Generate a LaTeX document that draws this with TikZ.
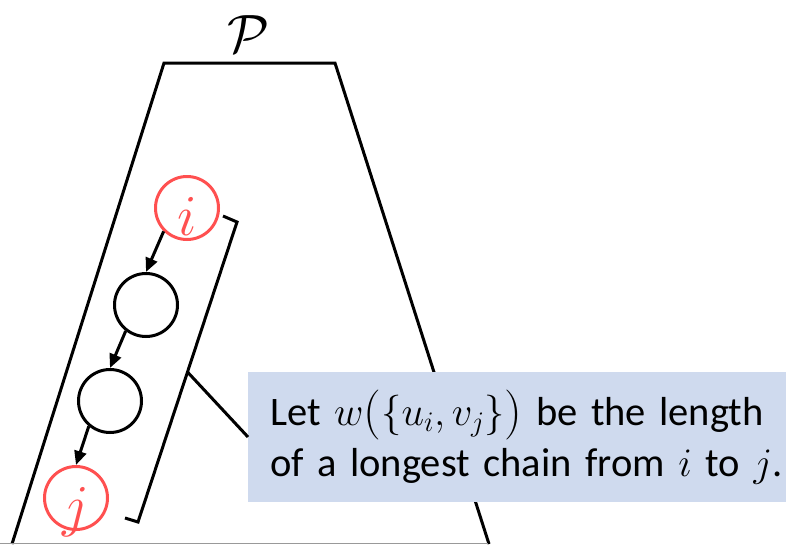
\RequirePackage{fix-cm}
\documentclass[tikz,border=0pt]{standalone}
\usepackage{amsmath}
\usepackage[no-math]{fontspec}
\setmainfont{Carlito}
\usetikzlibrary{arrows.meta,calc}
\definecolor{myred}{RGB}{255,80,80}
\definecolor{boxblue}{RGB}{207,218,238}
\newcommand{\myLparen}{\mathopen{\raisebox{-2.5pt}{\fontsize{50}{50}\selectfont$($}}}
\newcommand{\myRparen}{\mathclose{\raisebox{-2.5pt}{\fontsize{50}{50}\selectfont$)$}}}
\begin{document}
\begin{tikzpicture}[x=1pt,y=-1pt,
  chainnode/.style={circle, draw=black, line width=3pt, minimum size=63pt, inner sep=0pt},
  endnode/.style={chainnode, draw=myred, text=myred, font=\fontsize{58}{58}\selectfont, text height=54pt, text depth=0pt},
  chainedge/.style={line width=3pt, -{Triangle[length=14pt,width=12pt]}},
  frame/.style={line width=3pt, line join=miter},
  callbox/.style={fill=boxblue, anchor=west, inner xsep=22pt, inner ysep=0pt, text width=560pt, align=left, minimum height=130pt, font=\fontsize{40.5}{51}\selectfont},
  biglabel/.style={font=\fontsize{54}{54}\selectfont, inner sep=0pt},
]
\useasboundingbox (0,0) rectangle (786,544);
% trapezoid P
\coordinate (tl) at (164,63);
\coordinate (tr) at (335,63);
\coordinate (bl) at (12,544);
\coordinate (br) at (489,544);
\draw[frame] (bl) -- (tl) -- (tr) -- (br);
\draw[gray!80, line width=1.3pt] (0,543.3) -- (488,543.3);
\node[biglabel] (plabel) at (248,34) {$\mathcal{P}$};
% chain
\node[endnode] (i) at (187,208) {$i$};
\node[chainnode] (n1) at (146,305) {};
\node[chainnode] (n2) at (110,401) {};
\node[endnode] (j) at (76,498) {$j$};
\draw[chainedge] (i.225) -- (n1.north);
\draw[chainedge] (n1.232) -- (n2.north);
\draw[chainedge] (n2.230) -- (j.north);
% bracket
\coordinate (bt1) at (223,216);
\coordinate (bt2) at (237,222);
\coordinate (bb2) at (138,522);
\coordinate (bb1) at (125,518);
\coordinate (bm) at ($(bt2)!0.5!(bb2)$);
\draw[frame] (bt1) -- (bt2) -- (bb2) -- (bb1);
% callout
\node[callbox] (box) at (248,437) {Let $w\myLparen\{u_i,v_j\}\myRparen$ be the length\\of a longest chain from $i$ to $j$.};
\draw[frame] (bm) -- (box.west);
\end{tikzpicture}
\end{document}
